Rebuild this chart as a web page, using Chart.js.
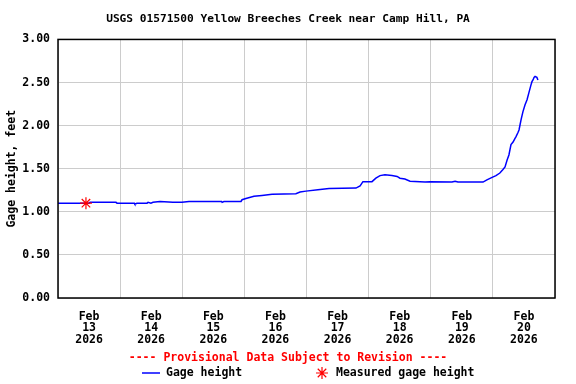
<!DOCTYPE html>
<html>
<head>
<meta charset="utf-8">
<script src="https://cdn.jsdelivr.net/npm/chart.js@4/dist/chart.umd.min.js"></script>
<style>
    html, body { margin: 0; padding: 0; background: #ffffff; }
    canvas { display: block; }
</style>
</head>
<body>
<canvas id="gageChart" width="576" height="384"></canvas>
<script>
const chartTitle = 'USGS 01571500 Yellow Breeches Creek near Camp Hill, PA';
const yAxisTitle = 'Gage height, feet';
const provisionalNote = '---- Provisional Data Subject to Revision ----';
const seriesNames = ['Gage height', 'Measured gage height'];

// x labels, one per day, centred at noon
const monthLabel = 'Feb';
const dayLabels = ['13', '14', '15', '16', '17', '18', '19', '20'];
const yearLabel = '2026';

// hours since Feb 13 00:00
const hoursSinceStart = [
    0, 12, 12.4, 22.4, 22.8, 29.5, 29.7, 30.5, 34.4, 34.8, 35.9, 36.7, 39.4, 44.4, 47.9,
    50.6, 63.2, 63.4, 64.1, 70.7, 71.1, 72.6, 75.7, 78.8, 82.7, 91.9, 93.5, 95.8,
    100.4, 104.7, 115.1, 116.7, 117.8, 121.3, 122.8, 124.4, 126.3, 129.0, 131.0,
    132.1, 134.0, 136.0, 139.8, 141.8, 143.7, 152.2, 153.4, 154.5, 164.2, 165.7,
    167.7, 169.2, 170.7, 171.9, 172.7, 173.5, 174.2, 174.6, 175.0, 175.8, 176.5,
    176.9, 177.7, 178.1, 178.5, 178.9, 179.6, 180.4, 181.2, 181.9, 182.7, 183.1,
    183.5, 183.9, 184.3, 185.0, 185.4
];
const gageHeight = [
    1.10, 1.10, 1.11, 1.11, 1.10, 1.10, 1.09, 1.10, 1.10, 1.11, 1.10, 1.11, 1.12, 1.11, 1.11,
    1.12, 1.12, 1.11, 1.12, 1.12, 1.14, 1.155, 1.18, 1.19, 1.205, 1.21, 1.23, 1.24,
    1.255, 1.27, 1.275, 1.30, 1.35, 1.35, 1.39, 1.42, 1.43, 1.42, 1.41,
    1.39, 1.38, 1.355, 1.35, 1.345, 1.35, 1.345, 1.355, 1.345, 1.345, 1.37,
    1.40, 1.42, 1.45, 1.49, 1.52, 1.60, 1.66, 1.72, 1.78, 1.81, 1.85,
    1.87, 1.92, 1.95, 2.01, 2.07, 2.16, 2.24, 2.30, 2.38, 2.47, 2.51,
    2.53, 2.56, 2.57, 2.56, 2.53
];

const measuredHours = [10.8];
const measuredHeight = [1.10];

const FONT = { family: "'DejaVu Sans Mono', monospace", size: 11.5, weight: 'bold' };
const LINE_BLUE = '#0000ff';
const STAR_RED = '#ff0000';

function drawStar(ctx, x, y, r) {
    ctx.beginPath();
    for (let i = 0; i < 4; i++) {
        const a = i * Math.PI / 4;
        ctx.moveTo(x - r * Math.cos(a), y - r * Math.sin(a));
        ctx.lineTo(x + r * Math.cos(a), y + r * Math.sin(a));
    }
    ctx.stroke();
}

// plot frame plus the note and legend under the axis
const frameAndLegend = {
    id: 'frameAndLegend',
    afterDatasetsDraw(chart) {
        const { ctx, chartArea } = chart;
        ctx.save();
        ctx.strokeStyle = '#000000';
        ctx.lineWidth = 1.5;
        ctx.strokeRect(chartArea.left, chartArea.top,
            chartArea.right - chartArea.left, chartArea.bottom - chartArea.top);
        ctx.restore();
    },
    afterDraw(chart) {
        const ctx = chart.ctx;
        const mid = chart.width / 2;
        ctx.save();
        ctx.font = `bold ${FONT.size}px ${FONT.family}`;
        ctx.textBaseline = 'middle';
        ctx.textAlign = 'center';
        ctx.fillStyle = STAR_RED;
        ctx.fillText(provisionalNote, mid, 358);

        ctx.textAlign = 'left';
        ctx.strokeStyle = LINE_BLUE;
        ctx.lineWidth = 1.5;
        ctx.beginPath();
        ctx.moveTo(mid - 146, 373);
        ctx.lineTo(mid - 128, 373);
        ctx.stroke();
        ctx.fillStyle = '#000000';
        ctx.fillText(seriesNames[0], mid - 122, 373);

        ctx.strokeStyle = STAR_RED;
        ctx.lineWidth = 1.2;
        drawStar(ctx, mid + 34, 373, 6);
        ctx.fillText(seriesNames[1], mid + 48, 373);
        ctx.restore();
    }
};

function buildDatasets() {
    return [
        {
            label: seriesNames[1],
            data: measuredHours.map((h, i) => ({ x: h, y: measuredHeight[i] })),
            showLine: false,
            pointStyle: 'star',
            pointRadius: 6,
            pointBorderWidth: 1.2,
            borderColor: STAR_RED,
            backgroundColor: STAR_RED,
            order: 0
        },
        {
            label: seriesNames[0],
            data: hoursSinceStart.map((h, i) => ({ x: h, y: gageHeight[i] })),
            showLine: true,
            borderColor: LINE_BLUE,
            borderWidth: 1.5,
            pointRadius: 0,
            tension: 0,
            fill: false,
            order: 1
        }
    ];
}

function initChart() {
    const ctx = document.getElementById('gageChart').getContext('2d');

    new Chart(ctx, {
        type: 'scatter',
        data: { datasets: buildDatasets() },
        plugins: [frameAndLegend],
        options: {
            responsive: false,
            animation: false,
            layout: { padding: { left: 0, right: 0, top: 0, bottom: 36 } },
            scales: {
                x: {
                    type: 'linear',
                    min: 0,
                    max: 192,
                    afterFit: scale => { scale.height = 50; },
                    border: { display: false },
                    grid: {
                        drawTicks: false,
                        color: c => (c.tick && c.tick.value % 24 === 0) ? '#cccccc' : 'rgba(0,0,0,0)'
                    },
                    ticks: {
                        stepSize: 12,
                        autoSkip: false,
                        maxRotation: 0,
                        padding: 13,
                        color: '#000000',
                        font: { ...FONT, lineHeight: 1.0 },
                        callback: v => v % 24 === 12
                            ? [monthLabel, dayLabels[(v - 12) / 24], yearLabel]
                            : ''
                    }
                },
                y: {
                    min: 0,
                    max: 3,
                    afterFit: scale => { scale.width = 58; },
                    border: { display: false },
                    grid: { drawTicks: false, color: '#cccccc' },
                    ticks: {
                        stepSize: 0.5,
                        padding: 8,
                        color: '#000000',
                        font: FONT,
                        callback: v => v.toFixed(2)
                    },
                    title: {
                        display: true,
                        text: yAxisTitle,
                        color: '#000000',
                        font: FONT,
                        padding: { top: 5, bottom: 0 }
                    }
                },
                // empty right-hand axis keeps the margin without shifting the title
                yRight: {
                    position: 'right',
                    min: 0,
                    max: 3,
                    afterFit: scale => { scale.width = 21; },
                    border: { display: false },
                    grid: { display: false },
                    ticks: { display: false }
                }
            },
            plugins: {
                legend: { display: false },
                tooltip: { enabled: false },
                title: {
                    display: true,
                    text: chartTitle,
                    color: '#000000',
                    font: { ...FONT, size: 11.2 },
                    padding: { top: 12, bottom: 14 }
                }
            }
        }
    });
}

initChart();
</script>
</body>
</html>
